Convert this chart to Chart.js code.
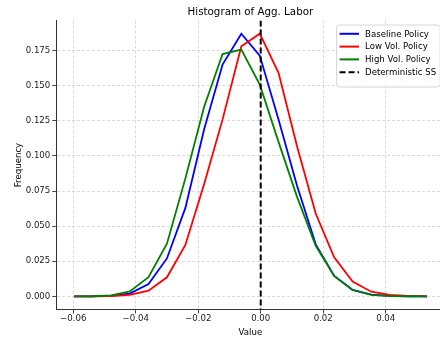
<!DOCTYPE html>
<html>
<head>
<meta charset="utf-8">
<script src="https://cdn.jsdelivr.net/npm/chart.js@4/dist/chart.umd.min.js"></script>
<style>
  html, body { margin: 0; padding: 0; background: #ffffff; overflow: hidden; width: 440px; height: 341px; }
  canvas { display: block; }
</style>
</head>
<body>
<canvas id="c" width="446" height="341"></canvas>
<script>
// ---- data ----
const binCenters = [-0.0597, -0.0538, -0.0478, -0.0419, -0.0359, -0.0300, -0.0241, -0.0181, -0.0122, -0.0062,
                    -0.0003, 0.0057, 0.0116, 0.0176, 0.0235, 0.0294, 0.0354, 0.0413, 0.0472, 0.0532];
const baselinePolicy = [0, 0.0001, 0.0005, 0.002, 0.0088, 0.027, 0.063, 0.119, 0.165, 0.187,
                        0.1714, 0.126, 0.079, 0.037, 0.0145, 0.0046, 0.0012, 0.0003, 0.0001, 0];
const lowVolPolicy = [0, 0, 0.0002, 0.001, 0.004, 0.0136, 0.0366, 0.080, 0.126, 0.178,
                      0.187, 0.1592, 0.107, 0.059, 0.0278, 0.0105, 0.0033, 0.001, 0.0003, 0];
const highVolPolicy = [0, 0.0001, 0.0007, 0.0035, 0.0136, 0.0375, 0.084, 0.135, 0.1725, 0.1757,
                       0.1508, 0.110, 0.071, 0.036, 0.0145, 0.0045, 0.001, 0.0002, 0.0001, 0];
const deterministicSS = 0.0;
const seriesLabels = ["Baseline Policy", "Low Vol. Policy", "High Vol. Policy", "Deterministic SS"];
const xTicks = [-0.06, -0.04, -0.02, 0.00, 0.02, 0.04];
const yTicks = [0.000, 0.025, 0.050, 0.075, 0.100, 0.125, 0.150, 0.175];
const chartTitle = "Histogram of Agg. Labor";
const xTitle = "Value";
const yTitle = "Frequency";

// ---- styling ----
const FONT = "'DejaVu Sans', 'Liberation Sans', sans-serif";
const colors = ["#0000ff", "#ff0000", "#008000", "#000000"];
const toPts = arr => binCenters.map((x, i) => ({ x: x, y: arr[i] }));

const overlayPlugin = {
  id: 'overlay',
  afterDatasetsDraw(chart) {
    const { ctx, chartArea } = chart;
    const xs = chart.scales.x;
    const px = xs.getPixelForValue(deterministicSS);
    ctx.save();
    ctx.beginPath();
    ctx.rect(chartArea.left, chartArea.top, chartArea.right - chartArea.left, chartArea.bottom - chartArea.top);
    ctx.clip();
    ctx.strokeStyle = colors[3];
    ctx.lineWidth = 2;
    ctx.setLineDash([6, 3]);
    ctx.beginPath();
    ctx.moveTo(px, chartArea.top);
    ctx.lineTo(px, chartArea.bottom);
    ctx.stroke();
    ctx.restore();
  },
  afterDraw(chart) {
    const { ctx, chartArea } = chart;
    // title
    ctx.save();
    ctx.fillStyle = "#000";
    ctx.font = "10.3px " + FONT;
    ctx.textAlign = "center";
    ctx.textBaseline = "middle";
    ctx.fillText(chartTitle, (chartArea.left + chartArea.right) / 2, 12.5);
    ctx.restore();

    // legend
    ctx.save();
    ctx.font = "8.6px " + FONT;
    let maxW = 0;
    seriesLabels.forEach(l => { maxW = Math.max(maxW, ctx.measureText(l).width); });
    const boxW = 28.5 + maxW + 4;
    const boxH = 62;
    const right = chartArea.right - 4.3;
    const left = right - boxW;
    const top = chartArea.top + 4.5;
    const r = 2.5;
    ctx.beginPath();
    ctx.moveTo(left + r, top);
    ctx.lineTo(right - r, top);
    ctx.arcTo(right, top, right, top + r, r);
    ctx.lineTo(right, top + boxH - r);
    ctx.arcTo(right, top + boxH, right - r, top + boxH, r);
    ctx.lineTo(left + r, top + boxH);
    ctx.arcTo(left, top + boxH, left, top + boxH - r, r);
    ctx.lineTo(left, top + r);
    ctx.arcTo(left, top, left + r, top, r);
    ctx.closePath();
    ctx.fillStyle = "rgba(255,255,255,0.8)";
    ctx.fill();
    ctx.strokeStyle = "#cccccc";
    ctx.lineWidth = 0.8;
    ctx.stroke();
    seriesLabels.forEach((l, i) => {
      const y = top + 8.8 + i * 12.8;
      ctx.strokeStyle = colors[i];
      ctx.lineWidth = 2;
      ctx.setLineDash(i === 3 ? [6, 3] : []);
      ctx.beginPath();
      ctx.moveTo(left + 3, y);
      ctx.lineTo(left + 22.5, y);
      ctx.stroke();
      ctx.setLineDash([]);
      ctx.fillStyle = "#000";
      ctx.textAlign = "left";
      ctx.textBaseline = "middle";
      ctx.fillText(l, left + 28.5, y + 0.5);
    });
    ctx.restore();
  }
};

const fmtX = v => { const s = Math.abs(v).toFixed(2); return (v < -1e-9 ? "\u2212" : "") + s; };
const fmtY = v => v.toFixed(3);

new Chart(document.getElementById('c'), {
  type: 'line',
  data: {
    datasets: [
      { label: seriesLabels[0], data: toPts(baselinePolicy), borderColor: colors[0], borderWidth: 1.8, pointRadius: 0, tension: 0, fill: false, order: 3 },
      { label: seriesLabels[1], data: toPts(lowVolPolicy), borderColor: colors[1], borderWidth: 1.8, pointRadius: 0, tension: 0, fill: false, order: 2 },
      { label: seriesLabels[2], data: toPts(highVolPolicy), borderColor: colors[2], borderWidth: 1.8, pointRadius: 0, tension: 0, fill: false, order: 1 }
    ]
  },
  options: {
    responsive: false,
    animation: false,
    devicePixelRatio: 1,
    layout: { padding: { top: 20.5, right: 1.5, bottom: 0, left: 0 } },
    plugins: {
      legend: { display: false },
      tooltip: { enabled: false },
      title: { display: false }
    },
    scales: {
      x: {
        type: 'linear',
        min: -0.0654,
        max: 0.0588,
        afterBuildTicks: s => { s.ticks = xTicks.map(v => ({ value: v })); },
        afterFit: s => { s.height = 31.5; },
        ticks: {
          callback: v => fmtX(v),
          font: { family: FONT, size: 8.6 },
          color: "#222",
          padding: 0.5,
          maxRotation: 0,
          autoSkip: false
        },
        grid: { color: "#d0d0d0", lineWidth: 0.8, tickColor: "#333", tickLength: 4, tickWidth: 0.9 },
        border: { display: true, color: "#333", width: 1, dash: [3, 2] },
        title: { display: true, text: xTitle, font: { family: FONT, size: 8.6 }, color: "#000", padding: { top: 0, bottom: 3.5 } }
      },
      y: {
        type: 'linear',
        min: -0.00935,
        max: 0.1964,
        afterBuildTicks: s => { s.ticks = yTicks.map(v => ({ value: v })); },
        afterFit: s => { s.width = 56.3; },
        ticks: {
          callback: v => fmtY(v),
          font: { family: FONT, size: 8.6 },
          color: "#222",
          padding: 2
        },
        grid: { color: "#d0d0d0", lineWidth: 0.8, tickColor: "#333", tickLength: 4, tickWidth: 0.9 },
        border: { display: true, color: "#333", width: 1, dash: [3, 2] },
        title: { display: true, text: yTitle, font: { family: FONT, size: 8.6 }, color: "#000", padding: { top: 14, bottom: 0 } }
      }
    }
  },
  plugins: [overlayPlugin]
});
</script>
</body>
</html>
